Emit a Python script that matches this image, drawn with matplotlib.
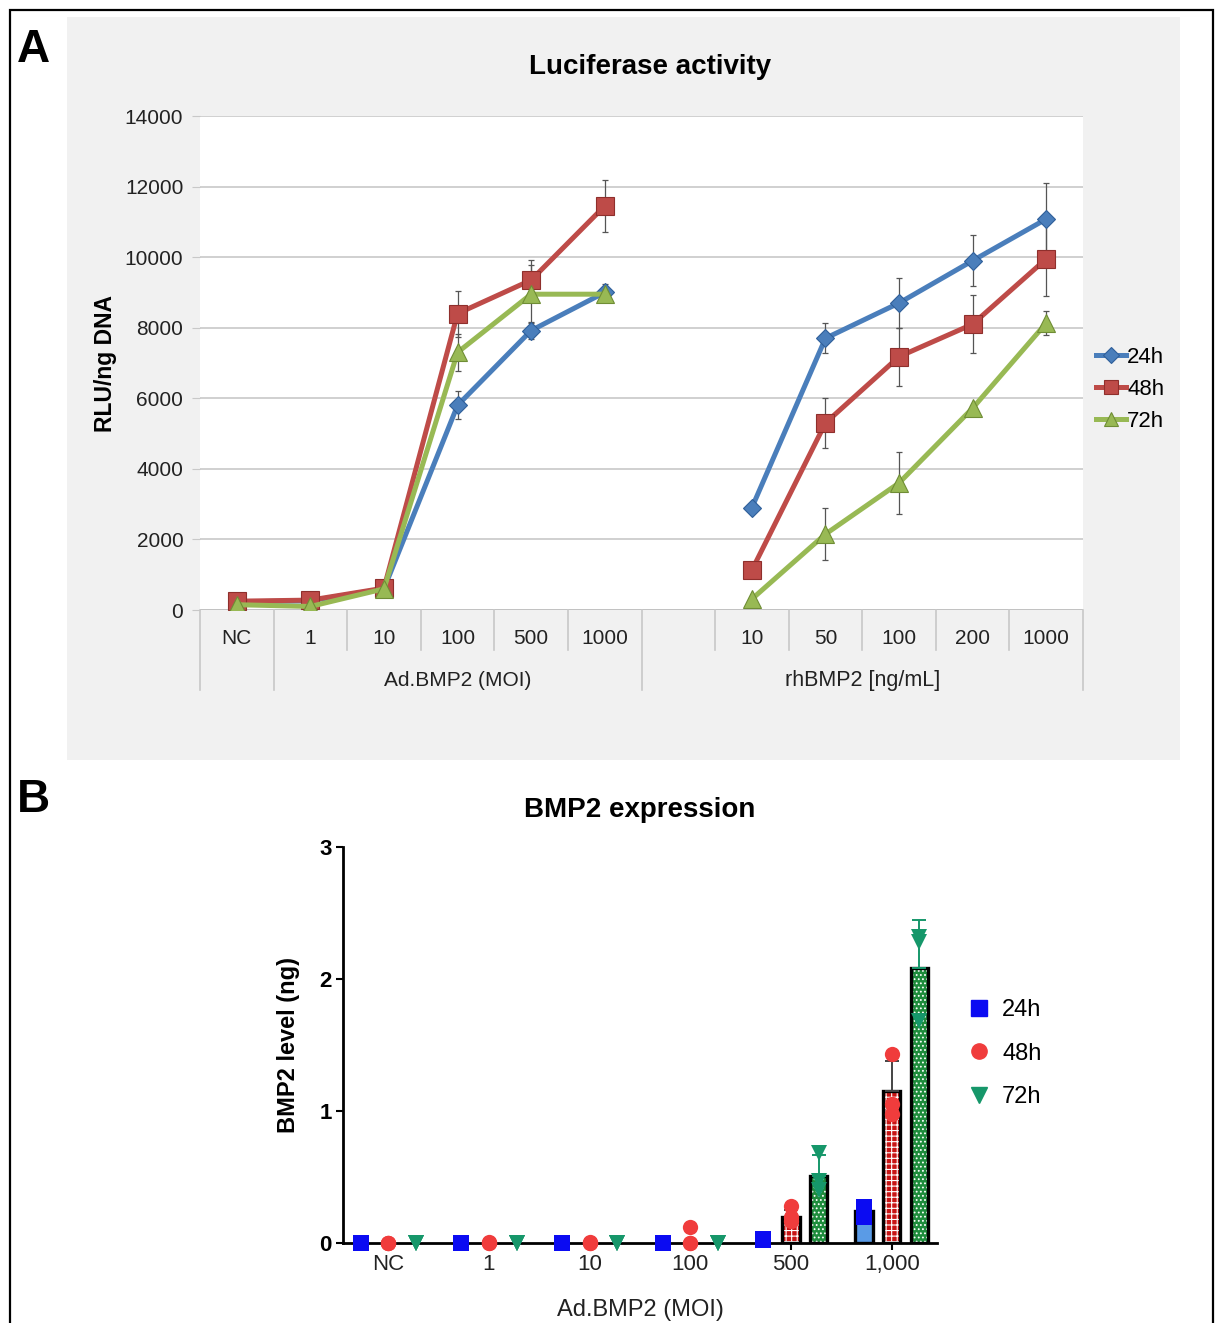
import numpy as np
import matplotlib
matplotlib.use("Agg")
import matplotlib.pyplot as plt
from matplotlib.patches import Rectangle
from matplotlib.lines import Line2D
import matplotlib.transforms as mtransforms

plt.rcParams['font.family'] = ['Liberation Sans', 'DejaVu Sans']
plt.rcParams['hatch.linewidth'] = 0.8

# ---- panel A data (luciferase, RLU/ng DNA) ----
ad_labels = ['NC', '1', '10', '100', '500', '1000']
rh_labels = ['10', '50', '100', '200', '1000']
series_names = ['24h', '48h', '72h']

luc_ad_24h = [230, 260, 600, 5800, 7920, 9000]
luc_ad_48h = [250, 280, 620, 8400, 9350, 11450]
luc_ad_72h = [150, 100, 600, 7300, 8950, 8950]
err_ad_24h = [0, 0, 0, 400, 240, 250]
err_ad_48h = [0, 0, 0, 650, 570, 750]
err_ad_72h = [0, 0, 0, 520, 820, 0]

luc_rh_24h = [2900, 7700, 8700, 9900, 11080]
luc_rh_48h = [1130, 5300, 7180, 8100, 9950]
luc_rh_72h = [310, 2150, 3600, 5720, 8130]
err_rh_24h = [0, 420, 700, 720, 1020]
err_rh_48h = [0, 720, 820, 820, 1050]
err_rh_72h = [0, 735, 880, 0, 350]

# ---- panel B data (BMP2 level, ng) ----
moi_labels = ['NC', '1', '10', '100', '500', '1,000']
bmp_mean_24h = [0, 0, 0, 0, 0.03, 0.24]
bmp_mean_48h = [0, 0, 0, 0.04, 0.20, 1.15]
bmp_mean_72h = [0, 0, 0, 0, 0.51, 2.08]
bmp_sd_24h = [0, 0, 0, 0, 0.0, 0.03]
bmp_sd_48h = [0, 0, 0, 0, 0.05, 0.23]
bmp_sd_72h = [0, 0, 0, 0, 0.16, 0.37]
bmp_pts_24h = [[0, 0, 0], [0, 0, 0], [0, 0, 0], [0, 0, 0], [0.03, 0.03, 0.02], [0.27, 0.25, 0.20]]
bmp_pts_48h = [[0, 0, 0], [0.01, 0, 0], [0, 0.01, 0], [0.12, 0, 0], [0.28, 0.20, 0.17], [1.43, 1.05, 0.98]]
bmp_pts_72h = [[0, 0, 0], [0, 0, 0], [0, 0, 0], [0, 0, 0], [0.68, 0.47, 0.40], [2.32, 2.28, 1.68]]

W, H = 1216, 1323
fig = plt.figure(figsize=(W / 100, H / 100), dpi=100)


def fbox(x0, y0, x1, y1):
    # pixel box -> figure fraction rect
    return [x0 / W, 1 - y1 / H, (x1 - x0) / W, (y1 - y0) / H]


# outer frame and grey panel background
fig.patches.append(Rectangle((10 / W, -0.01), 1203 / W, 1 - 10 / H + 0.01, transform=fig.transFigure,
                             fill=False, edgecolor='black', lw=1.6, zorder=-1))
fig.patches.append(Rectangle((67 / W, 1 - 760 / H), (1180 - 67) / W, (760 - 17) / H,
                             transform=fig.transFigure, facecolor='#f1f1f1', edgecolor='none', zorder=-2))

fig.text(33 / W, 1 - 50 / H, 'A', fontsize=33, fontweight='bold', ha='center', va='center')
fig.text(33 / W, 1 - 800 / H, 'B', fontsize=33, fontweight='bold', ha='center', va='center')

# ================= panel A =================
axA = fig.add_axes(fbox(200, 116, 1083, 610))
axA.set_facecolor('white')
n_slots = 12
x_ad = np.arange(len(ad_labels))
x_rh = np.arange(len(rh_labels)) + 7

colors_A = ['#4a7ebb', '#be4b48', '#98b954']
edges_A = ['#2f5f9a', '#8f2f2c', '#6f8d35']
markers_A = ['D', 's', '^']
msizes_A = [9.5, 12.5, 12.5]
ad_vals = [luc_ad_24h, luc_ad_48h, luc_ad_72h]
ad_errs = [err_ad_24h, err_ad_48h, err_ad_72h]
rh_vals = [luc_rh_24h, luc_rh_48h, luc_rh_72h]
rh_errs = [err_rh_24h, err_rh_48h, err_rh_72h]

for i in range(3):
    for xs, ys, es in [(x_ad, ad_vals[i], ad_errs[i]), (x_rh, rh_vals[i], rh_errs[i])]:
        axA.errorbar(xs, ys, yerr=es, fmt='none', ecolor='#555555', elinewidth=0.9, capsize=2.5,
                     capthick=0.9, zorder=2)
        axA.plot(xs, ys, color=colors_A[i], lw=3.6, marker=markers_A[i], markersize=msizes_A[i],
                 markerfacecolor=colors_A[i], markeredgecolor=edges_A[i], markeredgewidth=0.8,
                 zorder=3, label=series_names[i] if xs is x_ad else None)

axA.set_xlim(-0.5, n_slots - 0.5)
axA.set_ylim(0, 14000)
axA.set_yticks(np.arange(0, 14001, 2000))
axA.set_yticklabels([str(v) for v in range(0, 14001, 2000)], fontsize=15, color='#222222')
axA.yaxis.grid(True, color='#c8c8c8', lw=1.2)
axA.set_axisbelow(True)
axA.tick_params(axis='y', length=6, color='#c8c8c8', pad=6)
axA.set_xticks([])
for s in axA.spines.values():
    s.set_visible(False)
axA.axhline(0, color='#bfbfbf', lw=1.2, zorder=1)

# category axis drawn below the plot
trA = mtransforms.blended_transform_factory(axA.transData, axA.transAxes)
for b in np.arange(-0.5, n_slots, 1.0):
    low = -0.162 if b in (-0.5, 0.5, 5.5, 11.5) else -0.081
    axA.plot([b, b], [0, low], transform=trA, color='#c8c8c8', lw=1.2, clip_on=False)
for x, lab in zip(x_ad, ad_labels):
    axA.text(x, -0.057, lab, transform=trA, ha='center', va='center', fontsize=15, color='#222222')
for x, lab in zip(x_rh, rh_labels):
    axA.text(x, -0.057, lab, transform=trA, ha='center', va='center', fontsize=15, color='#222222')
axA.text(3.0, -0.142, 'Ad.BMP2 (MOI)', transform=trA, ha='center', va='center', fontsize=15, color='#222222')
axA.text(8.5, -0.142, 'rhBMP2 [ng/mL]', transform=trA, ha='center', va='center', fontsize=15.5, color='#222222')

axA.set_ylabel('RLU/ng DNA', fontsize=16.5, fontweight='bold')
axA.yaxis.set_label_coords(-0.094, 0.5)
fig.text(650 / W, 1 - 67 / H, 'Luciferase activity', fontsize=20, fontweight='bold', ha='center', va='center')

axA.legend(loc='center left', bbox_to_anchor=(1.015, 0.447), frameon=False, fontsize=16,
           handlelength=1.35, handletextpad=0.05, labelspacing=0.5, borderpad=0, borderaxespad=0,
           markerscale=0.85)

# ================= panel B =================
axB = fig.add_axes(fbox(343, 847, 937, 1243))
xg = np.arange(len(moi_labels))
off = 0.275
bw = 0.17
cB = ['#0b0bf2', '#f03c3c', '#16976a']
means = [bmp_mean_24h, bmp_mean_48h, bmp_mean_72h]
sds = [bmp_sd_24h, bmp_sd_48h, bmp_sd_72h]
pts = [bmp_pts_24h, bmp_pts_48h, bmp_pts_72h]
bar_face = ['#5a9be6', '#c81414', '#1e8c3c']
bar_hatch = [None, '+++', '....']
mk = ['s', 'o', 'v']

for i in range(3):
    xs = xg + (i - 1) * off
    m = np.array(means[i])
    show = m > 0.1
    axB.bar(xs[show], m[show], width=bw, color=bar_face[i], edgecolor='white' if bar_hatch[i] else bar_face[i],
            hatch=bar_hatch[i], lw=0, zorder=2)
    axB.bar(xs[show], m[show], width=bw, fill=False, edgecolor='black', lw=2.4, zorder=3)
    sd = np.array(sds[i])
    has = sd > 0
    axB.errorbar(xs[has], m[has], yerr=[np.zeros(has.sum()), sd[has]], fmt='none',
                 ecolor='#444444' if i < 2 else cB[i], elinewidth=1.4, capsize=5, capthick=1.4, zorder=4)
    for x, p in zip(xs, pts[i]):
        axB.plot([x] * len(p), p, linestyle='none', marker=mk[i], color=cB[i], markersize=11,
                 markeredgewidth=0, zorder=5, clip_on=False)

axB.set_xlim(-0.45, 5.45)
axB.set_ylim(0, 3)
axB.set_yticks([0, 1, 2, 3])
axB.set_yticklabels(['0', '1', '2', '3'], fontsize=16, fontweight='bold')
axB.set_xticks(xg)
axB.set_xticklabels(moi_labels, fontsize=16, color='#222222')
axB.tick_params(axis='both', length=5, width=1.5, pad=3)
axB.spines['top'].set_visible(False)
axB.spines['right'].set_visible(False)
axB.spines['left'].set_linewidth(2)
axB.spines['bottom'].set_linewidth(2)
axB.set_ylabel('BMP2 level (ng)', fontsize=17, fontweight='bold')
axB.yaxis.set_label_coords(-0.072, 0.5)
axB.set_xlabel('Ad.BMP2 (MOI)', fontsize=17, color='#222222', labelpad=17)
fig.text(640 / W, 1 - 810 / H, 'BMP2 expression', fontsize=20, fontweight='bold', ha='center', va='center')

handles = [Line2D([], [], linestyle='none', marker=mk[i], color=cB[i], markersize=11) for i in range(3)]
axB.legend(handles, series_names, loc='center left', bbox_to_anchor=(1.05, 0.478), frameon=False,
           fontsize=17, handlelength=1.0, handletextpad=0.5, labelspacing=0.9, borderpad=0, borderaxespad=0)

fig.savefig('out.png', dpi=100)
